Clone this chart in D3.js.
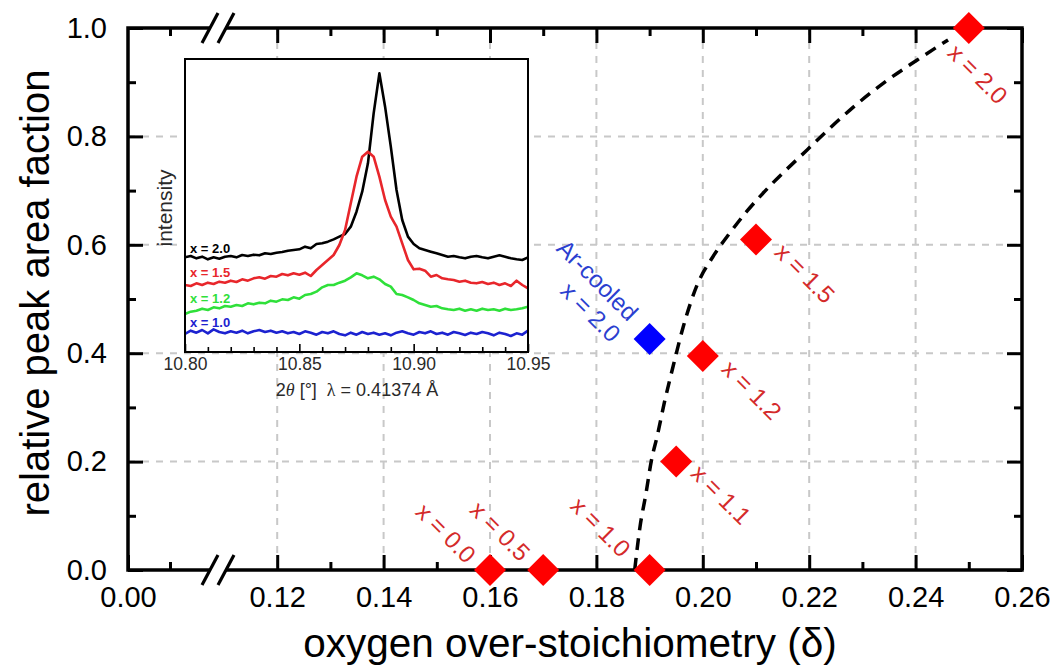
<!DOCTYPE html>
<html>
<head>
<meta charset="utf-8">
<script src="https://cdnjs.cloudflare.com/ajax/libs/d3/7.8.5/d3.min.js"></script>
<style>
  body { margin: 0; background: #fff; }
  text { font-family: "Liberation Sans", Arial, sans-serif; }
</style>
</head>
<body>
<svg id="chart" width="1057" height="668"></svg>
<script>
// main data: samples, oxygen over-stoichiometry and relative peak area fraction
const samples = ["x = 0.0", "x = 0.5", "x = 1.0", "x = 1.1", "x = 1.2", "x = 1.5", "x = 2.0"];
const delta = [0.16, 0.17, 0.19, 0.195, 0.2, 0.21, 0.25];
const fraction = [0.0, 0.0, 0.0, 0.2, 0.395, 0.61, 1.0];

const arCooledDelta = [0.19];
const arCooledFraction = [0.426];

// guide to the eye (dashed)
const trendDelta = [0.1872, 0.1882, 0.1893, 0.1903, 0.1915, 0.1928, 0.1944, 0.1963, 0.1989,
  0.2019, 0.2051, 0.2083, 0.2113, 0.2196, 0.2277, 0.2339, 0.2403, 0.2461];
const trendFraction = [0.0, 0.08, 0.14, 0.2, 0.25, 0.31, 0.375, 0.448, 0.525,
  0.578, 0.622, 0.662, 0.695, 0.775, 0.849, 0.898, 0.941, 0.978];

// tick values
const xTicksLeft = [0.0];
const xMinorLeft = [0.01];
const xTicksRight = [0.12, 0.14, 0.16, 0.18, 0.2, 0.22, 0.24, 0.26];
const xMinorRight = [0.13, 0.15, 0.17, 0.19, 0.21, 0.23, 0.25];
const yTicks = [0.0, 0.2, 0.4, 0.6, 0.8, 1.0];
const yMinor = [0.1, 0.3, 0.5, 0.7, 0.9];
const xGrid = [0.12, 0.14, 0.16, 0.18, 0.2, 0.22, 0.24];
const yGrid = [0.2, 0.4, 0.6, 0.8];

// inset: XRD peak, 2theta and intensity (a.u.)
const twoTheta = [10.8, 10.8025, 10.805, 10.8075, 10.81, 10.8125, 10.815, 10.8175, 10.82, 10.8225,
  10.825, 10.8275, 10.83, 10.8325, 10.835, 10.8375, 10.84, 10.8425, 10.845, 10.8475,
  10.85, 10.8525, 10.855, 10.8575, 10.86, 10.8625, 10.865, 10.8675, 10.87, 10.8725,
  10.875, 10.8775, 10.88, 10.8825, 10.885, 10.8875, 10.89, 10.8925, 10.895, 10.8975,
  10.9, 10.9025, 10.905, 10.9075, 10.91, 10.9125, 10.915, 10.9175, 10.92, 10.9225,
  10.925, 10.9275, 10.93, 10.9325, 10.935, 10.9375, 10.94, 10.9425, 10.945, 10.9475, 10.95];
const intensity20 = [284, 288, 281, 286, 278, 284, 280, 286, 288, 284, 291, 288, 292, 290, 296, 294, 298, 300, 304, 306,
  308, 316, 311, 324, 326, 331, 338, 346, 354, 376, 421, 481, 566, 716, 836, 736, 616, 486, 396, 346,
  324, 311, 306, 301, 296, 291, 286, 288, 284, 281, 286, 288, 284, 281, 286, 290, 286, 281, 278, 276, 284];
const intensity15 = [201, 198, 206, 201, 208, 204, 211, 208, 214, 210, 218, 214, 221, 224, 220, 228, 226, 234, 230, 236,
  232, 238, 228, 246, 261, 276, 291, 321, 366, 446, 526, 586, 601, 586, 526, 456, 406, 376, 326, 276,
  248, 250, 244, 226, 231, 221, 218, 216, 211, 214, 208, 206, 210, 204, 208, 201, 206, 198, 214, 201, 191];
const intensity12 = [114, 121, 124, 130, 126, 134, 131, 138, 136, 141, 138, 146, 143, 148, 146, 154, 151, 158, 156, 164,
  160, 171, 174, 181, 194, 201, 201, 208, 214, 224, 236, 230, 221, 226, 218, 204, 196, 174, 171, 164,
  156, 146, 141, 136, 138, 131, 128, 126, 130, 124, 128, 124, 130, 126, 128, 124, 130, 126, 128, 131, 136];
const intensity10 = [54, 64, 58, 66, 56, 68, 60, 56, 62, 58, 64, 56, 62, 66, 60, 64, 58, 62, 56, 60,
  54, 62, 58, 52, 60, 56, 62, 54, 50, 58, 52, 60, 54, 58, 52, 56, 50, 58, 62, 56,
  52, 60, 56, 62, 54, 58, 52, 60, 56, 51, 58, 54, 60, 56, 50, 58, 54, 48, 56, 52, 64];
const insetTicks = [10.8, 10.85, 10.9, 10.95];
const insetMinor = [10.81, 10.82, 10.83, 10.84, 10.86, 10.87, 10.88, 10.89, 10.91, 10.92, 10.93, 10.94];

const insetSeries = [
  { label: "x = 2.0", values: intensity20, color: "#000000" },
  { label: "x = 1.5", values: intensity15, color: "#e8262b" },
  { label: "x = 1.2", values: intensity12, color: "#2fe03a" },
  { label: "x = 1.0", values: intensity10, color: "#1c22d0" },
];

// label offsets (px) from each diamond
const labelOffsets = [[-44, -37], [-43, -39], [-49, -43], [45, 33], [49, 34], [49, 34], [9, 46]];

const svg = d3.select("#chart");
const font = "'Liberation Sans', Arial, sans-serif";

// broken x axis: two linear segments
const xLeft = d3.scaleLinear().domain([0, 0.02]).range([128, 212]);
const xRight = d3.scaleLinear().domain([0.11, 0.26]).range([224, 1022]);
const x = (v) => (v <= 0.02 ? xLeft(v) : xRight(v));
const y = d3.scaleLinear().domain([0, 1]).range([570, 28]);

const pLeft = 128, pRight = 1022, pTop = 28, pBottom = 570;

// grid
svg.append("g")
  .selectAll("line")
  .data(xGrid)
  .enter()
  .append("line")
  .attr("x1", (d) => x(d)).attr("x2", (d) => x(d))
  .attr("y1", pTop).attr("y2", pBottom)
  .style("stroke", "#c8c8c8").style("stroke-width", 2).style("stroke-dasharray", "7,7");
svg.append("g")
  .selectAll("line")
  .data(yGrid)
  .enter()
  .append("line")
  .attr("x1", pLeft).attr("x2", pRight)
  .attr("y1", (d) => y(d)).attr("y2", (d) => y(d))
  .style("stroke", "#c8c8c8").style("stroke-width", 2).style("stroke-dasharray", "7,7");

// ---- inset ----
const xi = d3.scaleLinear().domain([10.8, 10.95]).range([185, 528]);
const yi = d3.scaleLinear().domain([0, 879]).range([352, 59]);

svg.append("rect")
  .attr("x", 185).attr("y", 59).attr("width", 343).attr("height", 293)
  .attr("fill", "#fff");

svg.append("clipPath").attr("id", "insetClip")
  .append("rect").attr("x", 185).attr("y", 59).attr("width", 343).attr("height", 293);

const insetLine = d3.line()
  .x((d, i) => xi(twoTheta[i]))
  .y((d) => yi(d));

svg.append("g")
  .attr("clip-path", "url(#insetClip)")
  .selectAll("path")
  .data(insetSeries)
  .enter()
  .append("path")
  .attr("d", (d) => insetLine(d.values))
  .attr("fill", "none")
  .style("stroke", (d) => d.color)
  .style("stroke-width", 2.6)
  .style("stroke-linejoin", "round");

svg.append("g")
  .selectAll("text")
  .data(insetSeries)
  .enter()
  .append("text")
  .attr("x", 190)
  .attr("y", (d, i) => [248, 272, 298, 322][i])
  .attr("dy", "0.35em")
  .attr("fill", (d) => d.color)
  .style("font-size", "13px")
  .style("font-weight", "bold")
  .text((d) => d.label);

const insetAxis = svg.append("g").attr("transform", "translate(0,352)")
  .call(d3.axisBottom(xi).tickValues(insetTicks).tickFormat(d3.format(".2f"))
    .tickSizeInner(-8).tickSizeOuter(0).tickPadding(6));
insetAxis.select(".domain").remove();
insetAxis.selectAll("line").style("stroke", "#000").style("stroke-width", 1.6);
insetAxis.selectAll("text").style("font-size", "17.5px").style("font-family", font).attr("fill", "#2a2a2a");

const insetMinorAxis = svg.append("g").attr("transform", "translate(0,352)")
  .call(d3.axisBottom(xi).tickValues(insetMinor).tickFormat("").tickSizeInner(-5).tickSizeOuter(0));
insetMinorAxis.select(".domain").remove();
insetMinorAxis.selectAll("line").style("stroke", "#000").style("stroke-width", 1.6);

svg.append("rect")
  .attr("x", 185).attr("y", 59).attr("width", 343).attr("height", 293)
  .attr("fill", "none").style("stroke", "#000").style("stroke-width", 2);

svg.append("text")
  .attr("transform", "translate(172,208) rotate(-90)")
  .attr("text-anchor", "middle")
  .attr("fill", "#2a2a2a")
  .style("font-size", "21px")
  .text("intensity");

const insetLabel = svg.append("text")
  .attr("x", 357).attr("y", 396)
  .attr("text-anchor", "middle")
  .attr("fill", "#2a2a2a")
  .style("font-size", "18px")
  .style("white-space", "pre");
insetLabel.append("tspan").text("2");
insetLabel.append("tspan").style("font-style", "italic").style("font-family", "'Liberation Serif', serif").text("θ");
insetLabel.append("tspan").text("\u00a0[°]\u00a0\u00a0");
insetLabel.append("tspan").style("font-family", "'Liberation Serif', serif").text("λ");
insetLabel.append("tspan").text("\u00a0=\u00a00.41374\u00a0Å");

// ---- main axes ----
const styleAxis = (g, w) => {
  g.select(".domain").remove();
  g.selectAll("line").style("stroke", "#000").style("stroke-width", w);
  g.selectAll("text").style("font-size", "29px").style("font-family", font).attr("fill", "#000");
};

// bottom
styleAxis(svg.append("g").attr("transform", `translate(0,${pBottom})`)
  .call(d3.axisBottom(xLeft).tickValues(xTicksLeft).tickFormat(d3.format(".2f"))
    .tickSizeInner(-15).tickSizeOuter(0).tickPadding(16)), 3);
styleAxis(svg.append("g").attr("transform", `translate(0,${pBottom})`)
  .call(d3.axisBottom(xRight).tickValues(xTicksRight).tickFormat(d3.format(".2f"))
    .tickSizeInner(-15).tickSizeOuter(0).tickPadding(16)), 3);
styleAxis(svg.append("g").attr("transform", `translate(0,${pBottom})`)
  .call(d3.axisBottom(xLeft).tickValues(xMinorLeft).tickFormat("").tickSizeInner(-8).tickSizeOuter(0)), 3);
styleAxis(svg.append("g").attr("transform", `translate(0,${pBottom})`)
  .call(d3.axisBottom(xRight).tickValues(xMinorRight).tickFormat("").tickSizeInner(-8).tickSizeOuter(0)), 3);

// top
styleAxis(svg.append("g").attr("transform", `translate(0,${pTop})`)
  .call(d3.axisTop(xRight).tickValues(xTicksRight).tickFormat("").tickSizeInner(-15).tickSizeOuter(0)), 3);
styleAxis(svg.append("g").attr("transform", `translate(0,${pTop})`)
  .call(d3.axisTop(xLeft).tickValues(xMinorLeft).tickFormat("").tickSizeInner(-8).tickSizeOuter(0)), 3);
styleAxis(svg.append("g").attr("transform", `translate(0,${pTop})`)
  .call(d3.axisTop(xRight).tickValues(xMinorRight).tickFormat("").tickSizeInner(-8).tickSizeOuter(0)), 3);

// left
styleAxis(svg.append("g").attr("transform", `translate(${pLeft},0)`)
  .call(d3.axisLeft(y).tickValues(yTicks).tickFormat(d3.format(".1f"))
    .tickSizeInner(-15).tickSizeOuter(0).tickPadding(21)), 3);
styleAxis(svg.append("g").attr("transform", `translate(${pLeft},0)`)
  .call(d3.axisLeft(y).tickValues(yMinor).tickFormat("").tickSizeInner(-8).tickSizeOuter(0)), 3);

// right
styleAxis(svg.append("g").attr("transform", `translate(${pRight},0)`)
  .call(d3.axisRight(y).tickValues(yTicks).tickFormat("").tickSizeInner(-15).tickSizeOuter(0)), 3);
styleAxis(svg.append("g").attr("transform", `translate(${pRight},0)`)
  .call(d3.axisRight(y).tickValues(yMinor).tickFormat("").tickSizeInner(-8).tickSizeOuter(0)), 3);

// frame
svg.append("rect")
  .attr("x", pLeft).attr("y", pTop).attr("width", pRight - pLeft).attr("height", pBottom - pTop)
  .attr("fill", "none").style("stroke", "#000").style("stroke-width", 3.5);

// axis breaks
const breakX = 218;
[pTop, pBottom].forEach((by) => {
  svg.append("rect")
    .attr("x", breakX - 8).attr("y", by - 4).attr("width", 16).attr("height", 8)
    .attr("fill", "#fff");
  [-8, 8].forEach((off) => {
    svg.append("line")
      .attr("x1", breakX + off - 8).attr("y1", by + 15)
      .attr("x2", breakX + off + 8).attr("y2", by - 15)
      .style("stroke", "#000").style("stroke-width", 3.2);
  });
});

// axis titles
svg.append("text")
  .attr("x", 570).attr("y", 657)
  .attr("text-anchor", "middle")
  .style("font-size", "40.5px")
  .text("oxygen over-stoichiometry (δ)");
svg.append("text")
  .attr("transform", `translate(49,${(pTop + pBottom) / 2 - 6}) rotate(-90)`)
  .attr("text-anchor", "middle")
  .style("font-size", "40px")
  .text("relative peak area faction");

// dashed trend
const trendLine = d3.line()
  .x((d, i) => x(trendDelta[i]))
  .y((d) => y(d))
  .curve(d3.curveMonotoneX);
svg.append("path")
  .datum(trendFraction)
  .attr("d", trendLine)
  .attr("fill", "none")
  .style("stroke", "#000")
  .style("stroke-width", 3.5)
  .style("stroke-dasharray", "12,8");

// diamonds
const diamond = d3.symbol().type(d3.symbolSquare).size(512);
svg.append("g")
  .selectAll("path")
  .data(delta)
  .enter()
  .append("path")
  .attr("d", diamond)
  .attr("transform", (d, i) => `translate(${x(d)},${y(fraction[i])}) rotate(45)`)
  .attr("fill", "#ff0000");
svg.append("g")
  .selectAll("path")
  .data(arCooledDelta)
  .enter()
  .append("path")
  .attr("d", diamond)
  .attr("transform", (d, i) => `translate(${x(d)},${y(arCooledFraction[i])}) rotate(45)`)
  .attr("fill", "#0000ff");

// sample labels
svg.append("g")
  .selectAll("text")
  .data(samples)
  .enter()
  .append("text")
  .attr("transform", (d, i) =>
    `translate(${x(delta[i]) + labelOffsets[i][0]},${y(fraction[i]) + labelOffsets[i][1]}) rotate(45)`)
  .attr("text-anchor", "middle")
  .attr("dy", "0.35em")
  .attr("fill", "#d42a2a")
  .style("font-size", "24px")
  .text((d) => d);

const arX = x(arCooledDelta[0]);
const arY = y(arCooledFraction[0]);
[["Ar-cooled", -52, -59], ["x = 2.0", -59, -27]].forEach(([t, dx, dy]) => {
  svg.append("text")
    .attr("transform", `translate(${arX + dx},${arY + dy}) rotate(45)`)
    .attr("text-anchor", "middle")
    .attr("dy", "0.35em")
    .attr("fill", "#2b3fd0")
    .style("font-size", "24px")
    .text(t);
});
</script>
</body>
</html>
